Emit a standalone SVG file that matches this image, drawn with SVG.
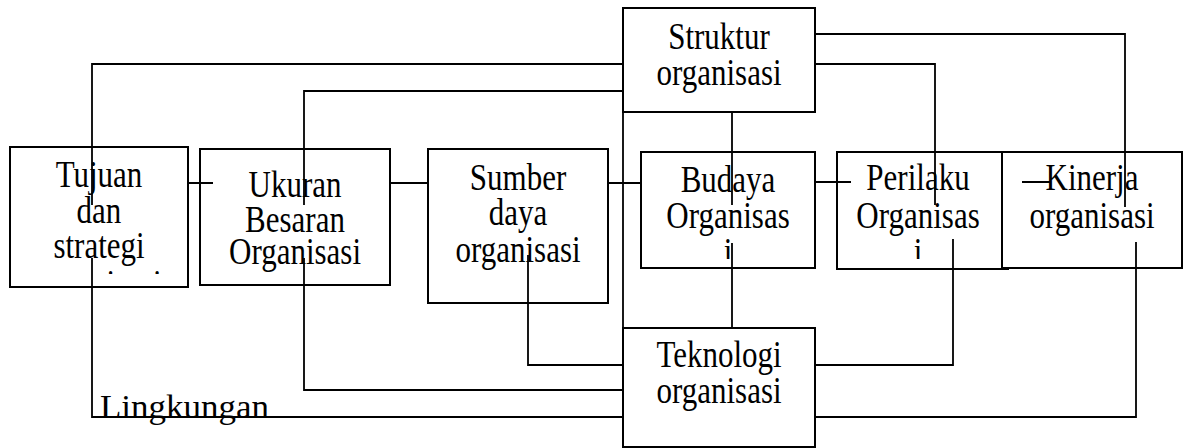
<svg xmlns="http://www.w3.org/2000/svg" width="1186" height="448" viewBox="0 0 1186 448">
<style>
.box{fill:#fff;stroke:#000;stroke-width:2}
.t{font-family:"Liberation Serif","Times New Roman",serif;font-size:31px;fill:#000;text-anchor:middle}
.c{fill:none;stroke:#000;stroke-width:1.8}
</style>
<defs>
<clipPath id="clipTujuan"><rect x="10" y="147" width="178" height="127"/></clipPath>
<clipPath id="clipBudaya"><rect x="641" y="152" width="174" height="107"/></clipPath>
<clipPath id="clipPerilaku"><rect x="837" y="152" width="171" height="107"/></clipPath>
</defs>
<rect width="1186" height="448" fill="#fff"/>
<g id="tujuan">
<rect class="box" x="10" y="147" width="178" height="140"/>
<g clip-path="url(#clipTujuan)">
<text class="t" transform="matrix(1,0,0,1.2,99,187)">Tujuan</text>
<text class="t" transform="matrix(1,0,0,1.2,99,223)">dan</text>
<text class="t" transform="matrix(1,0,0,1.2,99,258)">strategi</text>
<text class="t" transform="matrix(1,0,0,1.2,99,296)">organisasi</text>
</g>
</g>
<g id="ukuran">
<rect class="box" x="200" y="149" width="190" height="136"/>
<text class="t" transform="matrix(1,0,0,1.2,295,197)">Ukuran</text>
<text class="t" transform="matrix(1,0,0,1.2,295,232)">Besaran</text>
<text class="t" transform="matrix(1,0,0,1.2,295,264)">Organisasi</text>
</g>
<g id="sumber">
<rect class="box" x="428" y="149" width="180" height="154"/>
<text class="t" transform="matrix(1,0,0,1.2,518,190)">Sumber</text>
<text class="t" transform="matrix(1,0,0,1.2,518,225)">daya</text>
<text class="t" transform="matrix(1,0,0,1.2,518,262)">organisasi</text>
</g>
<g id="budaya">
<rect class="box" x="641" y="152" width="174" height="116"/>
<g clip-path="url(#clipBudaya)">
<text class="t" transform="matrix(1,0,0,1.2,728,192)">Budaya</text>
<text class="t" transform="matrix(1,0,0,1.2,728,228)">Organisas</text>
<text class="t" transform="matrix(1,0,0,1.2,728,264)">i</text>
</g>
</g>
<g id="perilaku">
<rect class="box" x="837" y="152" width="171" height="117"/>
<g clip-path="url(#clipPerilaku)">
<text class="t" transform="matrix(1,0,0,1.2,918,190)">Perilaku</text>
<text class="t" transform="matrix(1,0,0,1.2,918,228)">Organisas</text>
<text class="t" transform="matrix(1,0,0,1.2,918,264)">i</text>
</g>
</g>
<g id="kinerja">
<rect class="box" x="1002" y="152" width="180" height="116"/>
<text class="t" transform="matrix(1,0,0,1.2,1092,190)">Kinerja</text>
<text class="t" transform="matrix(1,0,0,1.2,1092,228)">organisasi</text>
</g>
<g id="struktur">
<rect class="box" x="623" y="8" width="192" height="104"/>
<text class="t" transform="matrix(1,0,0,1.2,719,49)">Struktur</text>
<text class="t" transform="matrix(1,0,0,1.2,719,85)">organisasi</text>
</g>
<g id="teknologi">
<rect class="box" x="623" y="328" width="192" height="119"/>
<text class="t" transform="matrix(1,0,0,1.2,719,367)">Teknologi</text>
<text class="t" transform="matrix(1,0,0,1.2,719,403)">organisasi</text>
</g>
<g id="lingkungan">
<text transform="matrix(1,0,0,1.15,100,418)" font-family="Liberation Serif, serif" font-size="30" textLength="169" lengthAdjust="spacingAndGlyphs">Lingkungan</text>
</g>
<g id="connectors">
<path class="c" d="M623,64 H92 V205 M92,258 V417 H623"/>
<path class="c" d="M623,91 H304 V205 M304,258 V390 H623"/>
<path class="c" d="M528,255 V365 H623"/>
<path class="c" d="M623,112 V328"/>
<path class="c" d="M732,112 V205 M732,243 V328"/>
<path class="c" d="M815,64 H935 V205"/>
<path class="c" d="M815,34 H1125 V207"/>
<path class="c" d="M953,239 V365 H815"/>
<path class="c" d="M1136,242 V417 H815"/>
<path class="c" d="M188,183 H213 M390,183 H428 M608,183 H641 M815,182 H851 M1022,182 H1050"/>
</g>
</svg>
